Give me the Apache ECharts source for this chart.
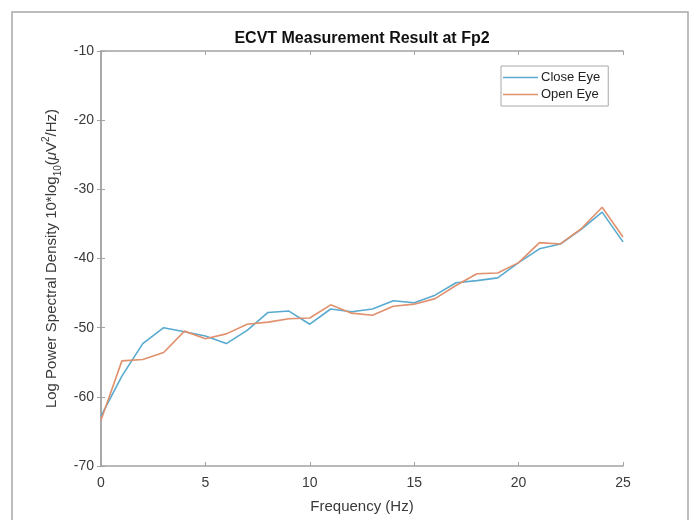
<!DOCTYPE html>
<html>
<head>
<meta charset="utf-8">
<script src="https://cdn.jsdelivr.net/npm/echarts@6/dist/echarts.min.js"></script>
<style>
html,body{margin:0;padding:0;background:#fff;}
#chart{width:695px;height:520px;}
</style>
</head>
<body>
<div id="chart"></div>
<script>
var frequency = [0,1,2,3,4,5,6,7,8,9,10,11,12,13,14,15,16,17,18,19,20,21,22,23,24,25];
var closeEye = [-62.8,-57.0,-52.3,-50.0,-50.6,-51.2,-52.3,-50.4,-47.8,-47.6,-49.5,-47.3,-47.7,-47.3,-46.1,-46.4,-45.3,-43.5,-43.2,-42.8,-40.6,-38.6,-37.9,-35.8,-33.3,-37.6];
var openEye = [-63.4,-54.8,-54.6,-53.6,-50.5,-51.6,-50.9,-49.5,-49.2,-48.7,-48.6,-46.7,-47.9,-48.2,-46.9,-46.6,-45.8,-43.9,-42.2,-42.1,-40.6,-37.7,-37.9,-35.7,-32.6,-36.9];
var seriesNames = ['Close Eye','Open Eye'];
var titleText = 'ECVT Measurement Result at Fp2';
var xLabel = 'Frequency (Hz)';

var FONT = "'Liberation Sans', Arial, Helvetica, sans-serif";
var AXIS_COLOR = '#a3a3a3';
var TEXT_COLOR = '#3a3a3a';

function pairs(xs, ys){ return xs.map(function(x,i){ return [x, ys[i]]; }); }

var chart = echarts.init(document.getElementById('chart'), null, {renderer:'canvas'});
var gridAxisCommon = {
  type:'value',
  axisLine:{show:true, lineStyle:{color:AXIS_COLOR, width:1.5}},
  axisTick:{show:true, inside:true, length:4, lineStyle:{color:AXIS_COLOR, width:1}},
  splitLine:{show:false}
};
var option = {
  animation:false,
  backgroundColor:'#ffffff',
  title:{
    text:titleText, left:362, top:31, textAlign:'center', padding:0,
    textStyle:{fontFamily:FONT, fontSize:16, fontWeight:'bold', color:'#111'}
  },
  legend:{
    data:seriesNames, orient:'vertical', left:501, top:66,
    borderColor:'#a8a8a8', borderWidth:1, backgroundColor:'#fff',
    padding:[5,8,5,2], itemWidth:35, itemHeight:1.6, itemGap:4, icon:'rect',
    textStyle:{fontFamily:FONT, fontSize:13, color:'#222', padding:[0,0,0,-2]}
  },
  graphic:[{
    type:'rect', shape:{x:12, y:12, width:676, height:540},
    style:{fill:'none', stroke:'#a8a8a8', lineWidth:1.5}, silent:true, z:-1
  }],
  grid:{left:101, right:72, top:51, bottom:54, containLabel:false},
  xAxis:[
    Object.assign({}, gridAxisCommon, {
      min:0, max:25, interval:5, position:'bottom',
      name:xLabel, nameLocation:'middle', nameGap:33,
      nameTextStyle:{fontFamily:FONT, fontSize:15, color:TEXT_COLOR},
      axisLabel:{fontFamily:FONT, fontSize:14, color:TEXT_COLOR, margin:10}
    }),
    Object.assign({}, gridAxisCommon, {
      min:0, max:25, interval:5, position:'top', axisLabel:{show:false}
    })
  ],
  yAxis:[
    Object.assign({}, gridAxisCommon, {
      min:-70, max:-10, interval:10, position:'left',
      name:'{a|Log Power Spectral Density 10*log}{s|10}{a|(}{m|μ}{a|V}{p|2}{a|/Hz)}',
      nameLocation:'middle', nameGap:36, nameRotate:90,
      nameTextStyle:{
        fontFamily:FONT, fontSize:15, color:TEXT_COLOR,
        rich:{
          a:{fontFamily:FONT, fontSize:15, color:TEXT_COLOR, lineHeight:22, verticalAlign:'middle'},
          m:{fontFamily:FONT, fontSize:15, fontStyle:'italic', color:TEXT_COLOR, lineHeight:22, verticalAlign:'middle'},
          s:{fontFamily:FONT, fontSize:10, color:TEXT_COLOR, lineHeight:22, verticalAlign:'bottom'},
          p:{fontFamily:FONT, fontSize:10, color:TEXT_COLOR, lineHeight:22, verticalAlign:'top'}
        }
      },
      axisLabel:{fontFamily:FONT, fontSize:14, color:TEXT_COLOR, margin:7}
    }),
    Object.assign({}, gridAxisCommon, {
      min:-70, max:-10, interval:10, position:'right', axisLabel:{show:false}
    })
  ],
  series:[
    {name:seriesNames[0], type:'line', data:pairs(frequency, closeEye), symbol:'none',
     lineStyle:{color:'#58aad0', width:1.6}, itemStyle:{color:'#58aad0'}, z:2},
    {name:seriesNames[1], type:'line', data:pairs(frequency, openEye), symbol:'none',
     lineStyle:{color:'#e0906c', width:1.6}, itemStyle:{color:'#e0906c'}, z:3}
  ]
};
chart.setOption(option);
</script>
</body>
</html>
